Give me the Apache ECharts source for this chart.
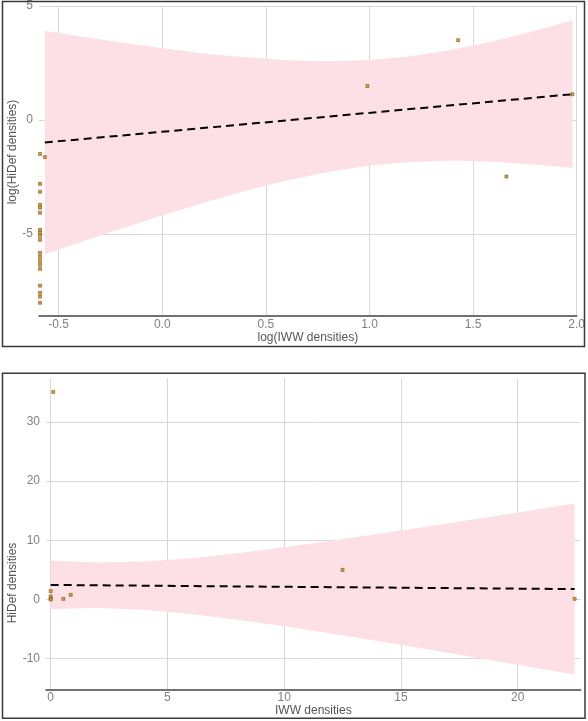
<!DOCTYPE html>
<html>
<head>
<meta charset="utf-8">
<script src="https://cdn.jsdelivr.net/npm/echarts@6/dist/echarts.min.js"></script>
<style>
html,body{margin:0;padding:0;background:#fff;}
#chart{width:588px;height:721px;}
</style>
</head>
<body>
<div id="chart"></div>
<script>
// ---------- Top panel: log(IWW densities) vs log(HiDef densities) ----------
const topPointsX = [-0.59,-0.59,-0.59,-0.59,-0.59,-0.59,-0.59,-0.59,-0.59,-0.59,-0.59,-0.59,-0.59,-0.59,-0.59,-0.59,-0.59,-0.59,-0.59,
                    -0.567, 0.99, 1.428, 1.661, 1.98];
const topPointsY = [-1.49,-2.80,-3.15,-3.72,-3.85,-4.07,-4.82,-4.95,-5.08,-5.26,-5.83,-6.00,-6.18,-6.35,-6.53,-7.27,-7.58,-7.75,-8.02,
                    -1.63, 1.49, 3.50, -2.48, 1.13];
const topFitX = [-0.567, 1.98];
const topFitY = [-0.99, 1.13];
const topBandX     = [-0.567,-0.4,-0.2, 0.0, 0.2, 0.4, 0.6, 0.8, 1.0, 1.2, 1.4, 1.6, 1.8, 1.98];
const topBandUpper = [ 3.91, 3.67, 3.40, 3.15, 2.92, 2.75, 2.62, 2.58, 2.63, 2.80, 3.08, 3.45, 3.91, 4.37];
const topBandLower = [-5.89,-5.37,-4.77,-4.18,-3.63,-3.12,-2.66,-2.28,-2.00,-1.84,-1.78,-1.83,-1.95,-2.11];
const topXTicks = [-0.5, 0.0, 0.5, 1.0, 1.5, 2.0];
const topYTicks = [-5, 0, 5];

// ---------- Bottom panel: IWW densities vs HiDef densities ----------
const botPointsX = [0.0, 0.0, 0.0, 0.0, 0.11, 0.54, 0.86, 12.5, 22.44];
const botPointsY = [1.4, 0.5, 0.1, 0.0, 35.1, 0.1, 0.78, 5.0, 0.1];
const botFitX = [0.0, 22.44];
const botFitY = [2.45, 1.75];
const botBandX     = [0, 2, 4, 6, 8, 10, 12, 14, 16, 18, 20, 22.44];
const botBandUpper = [6.53, 6.24, 6.41, 6.98, 7.82, 8.83, 9.92, 11.07, 12.26, 13.48, 14.72, 16.23];
const botBandLower = [-1.63,-1.46,-1.75,-2.46,-3.42,-4.55,-5.76,-7.05,-8.36,-9.70,-11.06,-12.73];
const botXTicks = [0, 5, 10, 15, 20];
const botYTicks = [-10, 0, 10, 20, 30];

const FONT = 'Liberation Sans, Arial, sans-serif';
const labelColor = '#808080';
const nameColor = '#555';
const gridColor = '#d8d8d8';
const bandColor = '#fde0e5';
const pointColor = '#e39a2c';

function zip(a, b) { return a.map((v, i) => [v, b[i]]); }

function bandSeries(xs, up, lo, axisIdx) {
  return {
    type: 'custom',
    xAxisIndex: axisIdx, yAxisIndex: axisIdx,
    silent: true, z: 1,
    data: [[xs[0], up[0]]],
    renderItem: function (params, api) {
      const pts = [];
      for (let i = 0; i < xs.length; i++) pts.push(api.coord([xs[i], up[i]]));
      for (let i = xs.length - 1; i >= 0; i--) pts.push(api.coord([xs[i], lo[i]]));
      return { type: 'polygon', shape: { points: pts }, style: { fill: bandColor } };
    }
  };
}
function fitSeries(xs, ys, axisIdx) {
  return {
    type: 'line', xAxisIndex: axisIdx, yAxisIndex: axisIdx,
    data: zip(xs, ys), symbol: 'none', silent: true, z: 3,
    lineStyle: { color: '#000', width: 2, type: [8, 5] }
  };
}
function pointSeries(xs, ys, axisIdx) {
  return {
    type: 'scatter', xAxisIndex: axisIdx, yAxisIndex: axisIdx,
    data: zip(xs, ys), symbol: 'rect', symbolSize: 3, z: 4,
    itemStyle: { color: pointColor, borderColor: '#5a3a00', borderWidth: 0.5, opacity: 0.95 }
  };
}
function xAxisCfg(idx, min, max, ticks, fmt, name, nameGap, margin, hideMax) {
  return {
    type: 'value', gridIndex: idx, min: min, max: max, splitNumber: 5,
    name: name, nameLocation: 'middle', nameGap: nameGap,
    nameTextStyle: { color: nameColor, fontSize: 12, fontFamily: FONT },
    axisLine: { show: true, onZero: false, lineStyle: { color: '#444', width: 1.5 } },
    axisTick: { show: false },
    axisLabel: { customValues: ticks, formatter: fmt, margin: margin, color: labelColor, fontSize: 12, fontFamily: FONT },
    splitLine: { show: true, showMinLine: false, showMaxLine: !hideMax, lineStyle: { color: gridColor, width: 1 } }
  };
}
function yAxisCfg(idx, min, max, ticks, splitNumber, hideMax) {
  return {
    type: 'value', gridIndex: idx, min: min, max: max, splitNumber: splitNumber,
    axisLine: { show: false }, axisTick: { show: false },
    axisLabel: { customValues: ticks, margin: 6, color: labelColor, fontSize: 12, fontFamily: FONT },
    splitLine: { show: true, showMinLine: false, showMaxLine: !hideMax, lineStyle: { color: gridColor, width: 1 } }
  };
}

const chart = echarts.init(document.getElementById('chart'), null, { renderer: 'canvas' });
chart.setOption({
  animation: false,
  backgroundColor: '#fff',
  textStyle: { fontFamily: FONT },
  grid: [
    { left: 39, right: 8.7, top: 6, height: 310 },
    { left: 46, right: 7.3, top: 378.3, height: 311 }
  ],
  xAxis: [
    xAxisCfg(0, -0.595, 2.0, topXTicks, v => Number(v).toFixed(1), 'log(IWW densities)', 15, 3, false),
    xAxisCfg(1, -0.2, 22.7, botXTicks, v => String(v), 'IWW densities', 13, 2, true)
  ],
  yAxis: [
    yAxisCfg(0, -8.6, 5, topYTicks, 3, false),
    yAxisCfg(1, -15.2, 37.4, botYTicks, 5, true)
  ],
  graphic: [
    { type: 'text', x: 13, y: 152, rotation: Math.PI / 2, z: 10,
      style: { text: 'log(HiDef densities)', fill: nameColor, font: '12px ' + FONT, align: 'center', verticalAlign: 'middle' } },
    { type: 'text', x: 13, y: 583, rotation: Math.PI / 2, z: 10,
      style: { text: 'HiDef densities', fill: nameColor, font: '12px ' + FONT, align: 'center', verticalAlign: 'middle' } },
    { type: 'rect', z: 20, shape: { x: 2.5, y: 1.5, width: 582, height: 345 },
      style: { fill: 'none', stroke: '#3a3a3a', lineWidth: 1.5 } },
    { type: 'rect', z: 20, shape: { x: 2.5, y: 373.3, width: 582.5, height: 345 },
      style: { fill: 'none', stroke: '#3a3a3a', lineWidth: 1.5 } }
  ],
  series: [
    bandSeries(topBandX, topBandUpper, topBandLower, 0),
    fitSeries(topFitX, topFitY, 0),
    pointSeries(topPointsX, topPointsY, 0),
    bandSeries(botBandX, botBandUpper, botBandLower, 1),
    fitSeries(botFitX, botFitY, 1),
    pointSeries(botPointsX, botPointsY, 1)
  ]
});
</script>
</body>
</html>
